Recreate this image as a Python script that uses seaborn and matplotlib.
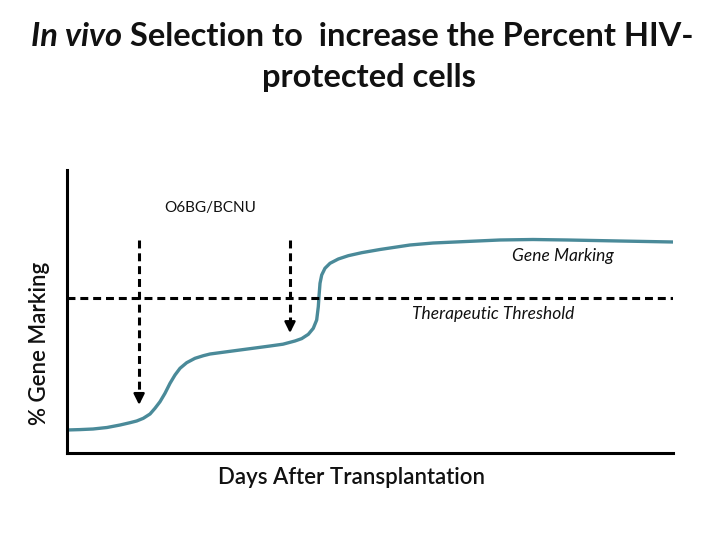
import matplotlib
matplotlib.use("Agg")
import matplotlib.pyplot as plt
import seaborn as sns
import pandas as pd

# ---- data (schematic; arbitrary 0-100 units) ----
days = [0.00, 2.15, 4.29, 6.60, 8.75, 10.40, 11.50, 12.59, 13.70, 14.52, 15.35,
        16.17, 17.00, 17.82, 18.65, 19.75, 21.12, 22.49, 23.60, 26.07, 28.55,
        31.02, 33.50, 35.64, 37.62, 38.73, 39.82, 40.64, 41.20, 41.47, 41.58,
        41.75, 42.03, 42.57, 43.40, 44.77, 46.42, 48.63, 51.65, 56.60, 60.40,
        65.84, 71.45, 76.90, 82.51, 91.25, 100.0]
marking = [8.13, 8.27, 8.48, 9.01, 9.89, 10.71, 11.31, 12.26, 13.78, 15.80, 18.13,
           21.10, 24.63, 27.56, 29.93, 31.91, 33.46, 34.38, 34.98, 35.69, 36.40,
           37.10, 37.81, 38.45, 39.58, 40.42, 41.94, 44.06, 47.00, 51.70, 55.23,
           59.96, 62.90, 65.27, 67.03, 68.55, 69.72, 70.78, 71.91, 73.50, 74.20,
           74.73, 75.27, 75.44, 75.27, 74.91, 74.56]
threshold = 54.8
dose_days = [11.9, 36.8]
arrow_top = [75.3, 75.3]
arrow_tip = [17.0, 42.4]

title_parts = [("In vivo", "italic"), (" Selection to  increase the Percent HIV-", "normal")]
title_line2 = "protected cells"
xlabel = "Days After Transplantation"
ylabel = "% Gene Marking"
treat_label = "O6BG/BCNU"
curve_label = "Gene Marking"
thresh_label = "Therapeutic Threshold"

sns.set_theme(style="white")
plt.rcParams['font.family'] = ['Lato', 'DejaVu Sans']

fig = plt.figure(figsize=(7.2, 5.4), dpi=100)
ax = fig.add_axes([67/720, 1-453/540, 606/720, 283/540])

df = pd.DataFrame({"days": days, "marking": marking})
sns.lineplot(data=df, x="days", y="marking", ax=ax, color="#4a8a99", lw=2.4,
             sort=False, estimator=None)
ax.lines[-1].set_solid_joinstyle("round")
ax.lines[-1].set_solid_capstyle("round")

ax.set_xlim(0, 100)
ax.set_ylim(0, 100)
ax.set_xticks([])
ax.set_yticks([])
ax.set_xlabel("")
ax.set_ylabel("")
for s in ["top", "right"]:
    ax.spines[s].set_visible(False)
for s in ["left", "bottom"]:
    ax.spines[s].set_color("black")
    ax.spines[s].set_linewidth(2.2)

dash = (0, (2.6, 1.6))
ax.axhline(threshold, color="black", lw=2.2, linestyle=dash)
for xd, yt, ytip in zip(dose_days, arrow_top, arrow_tip):
    ax.plot([xd, xd], [yt, ytip + 2.5], color="black", lw=2.2, linestyle=dash)
    ax.annotate("", xy=(xd, ytip), xytext=(xd, ytip + 3.5),
                arrowprops=dict(arrowstyle="-|>", color="black", lw=1.8,
                                mutation_scale=16, shrinkA=0, shrinkB=0))

ax.text(23.6, 86.6, treat_label, ha="center", va="center", fontsize=11, color="#111111")
ax.text(81.8, 69.6, curve_label, ha="center", va="center", fontsize=12.5,
        style="italic", color="#111111")
ax.text(70.3, 49.1, thresh_label, ha="center", va="center", fontsize=12.5,
        style="italic", color="#111111")

fig.text(40/720, 1-343/540, ylabel, rotation=90, ha="center", va="center",
         fontsize=16, fontweight="semibold", color="#111111")
fig.text(351/720, 1-478/540, xlabel, ha="center", va="center", fontsize=16,
         fontweight="semibold", color="#111111")

# title with mixed italic part
renderer = fig.canvas.get_renderer()
tsize = 23.5
y1 = 1 - 36/540
texts = []
xpos = 0.0
for txt, st in title_parts:
    t = fig.text(xpos, y1, txt, ha="left", va="center", fontsize=tsize,
                 fontweight="bold", style=st, color="#111111")
    bb = t.get_window_extent(renderer)
    texts.append(t)
    xpos = xpos + bb.width / fig.bbox.width
total = xpos
start = 362/720 - total / 2
for t in texts:
    x0, y0 = t.get_position()
    t.set_position((x0 + start, y0))
fig.text(369/720, 1 - 78/540, title_line2, ha="center", va="center", fontsize=tsize,
         fontweight="bold", color="#111111")

fig.savefig("out.png", dpi=100)
